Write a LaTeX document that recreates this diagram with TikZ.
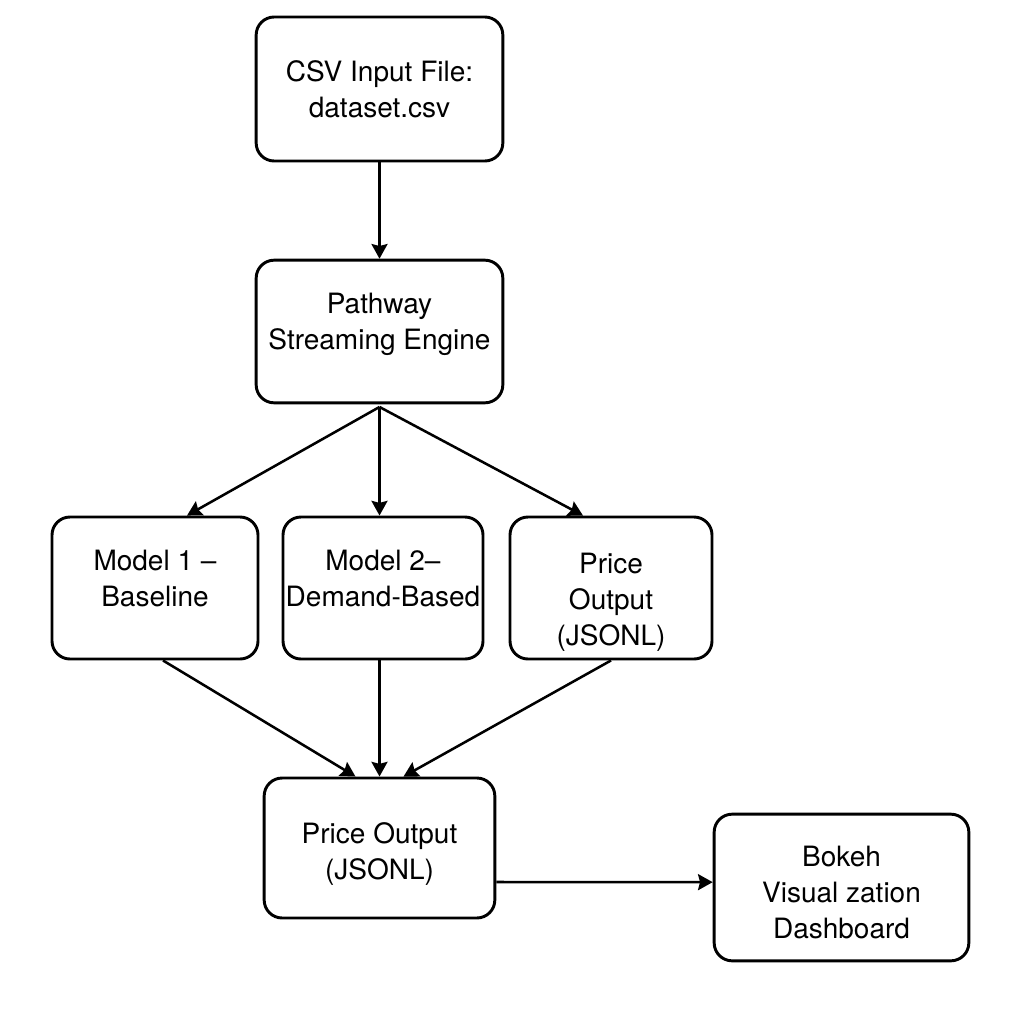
\documentclass[tikz,border=0pt]{standalone}
\usepackage{fontspec}
\setmainfont{TeX Gyre Heros}
\usetikzlibrary{arrows.meta}

\tikzset{every picture/.style={line width=0.75pt}}
\tikzset{
  flowbox/.style={draw, rounded corners=13.5pt, line width=2.2pt, inner sep=0pt},
  boxtext/.style={align=center, inner sep=0pt, font=\fontsize{21}{27}\selectfont},
  flowarrow/.style={line width=1.9pt, -{Stealth[length=11pt,width=12pt,inset=1.5pt]}}
}

\begin{document}
\begin{tikzpicture}[x=0.75pt,y=0.75pt,yscale=-1,xscale=1]
%set diagram to 1024 x 1024
\fill[white] (0,0) rectangle (1024,1024);
\path[use as bounding box] (0,0) rectangle (1024,1024);

%Rounded Rect: input
\node[flowbox, minimum width=185pt, minimum height=108pt,
  label={[boxtext]center:CSV Input File:\\dataset.csv}] (csv) at (379.5,89) {};
%Rounded Rect: engine
\node[flowbox, minimum width=185pt, minimum height=107pt,
  label={[boxtext, yshift=5pt]center:Pathway\\Streaming Engine}] (pathway) at (379.5,331.5) {};
%Rounded Rect: models
\node[flowbox, minimum width=154.5pt, minimum height=106.5pt,
  label={[boxtext, yshift=7pt]center:Model 1 –\\Baseline}] (model1) at (155,588) {};
\node[flowbox, minimum width=150pt, minimum height=106.5pt,
  label={[boxtext, yshift=7pt]center:Model 2–\\Demand-Based}] (model2) at (383,588) {};
\node[flowbox, minimum width=151.5pt, minimum height=106.5pt,
  label={[boxtext, yshift=-10.5pt]center:Price\\Output\\(JSONL)}] (price1) at (611,588) {};
%Rounded Rect: output
\node[flowbox, minimum width=173pt, minimum height=105pt,
  label={[boxtext, yshift=-4.5pt]center:Price Output\\(JSONL)}] (price2) at (379.5,848) {};
\node[flowbox, minimum width=191pt, minimum height=110pt,
  label={[boxtext, yshift=-4pt]center:Bokeh\\Visual zation\\Dashboard}] (bokeh) at (841.5,887.5) {};

%Arrows
\draw[flowarrow] (csv.south) -- (pathway.north);
\draw[flowarrow] ([yshift=2pt]pathway.south) -- ([xshift=24pt]model1.north);
\draw[flowarrow] ([yshift=2pt]pathway.south) -- (pathway.south |- model2.north);
\draw[flowarrow] ([yshift=2pt]pathway.south) -- ([xshift=-21pt]price1.north);

\draw[flowarrow] ([xshift=6pt]model1.south) -- ([xshift=-18pt]price2.north);
\draw[flowarrow] (price2.north |- model2.south) -- (price2.north);
\draw[flowarrow] (price1.south) -- ([xshift=18pt]price2.north);

\draw[flowarrow] ([yshift=25.5pt]price2.east) -- ([yshift=-4pt]bokeh.west);

\end{tikzpicture}
\end{document}
